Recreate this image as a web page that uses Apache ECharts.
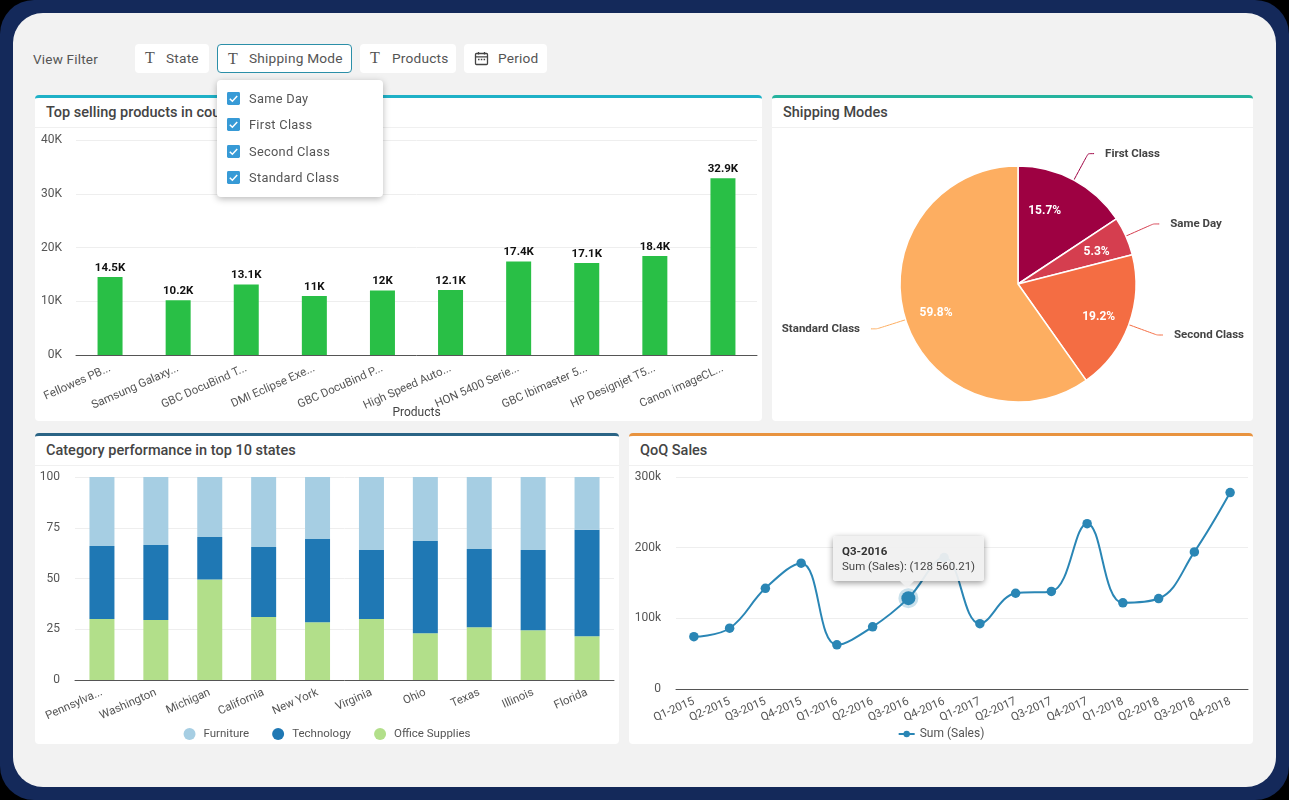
<!DOCTYPE html>
<html>
<head>
<meta charset="utf-8">
<title>Dashboard</title>
<script src="https://cdn.jsdelivr.net/npm/echarts@6/dist/echarts.min.js"></script>
<style>
    html, body { margin: 0; padding: 0; background: #000; }
    body { width: 1289px; height: 800px; overflow: hidden; font-family: Roboto, sans-serif; color: #444; position: relative; }
    .frame { position: absolute; left: 0; top: 0; width: 1289px; height: 800px; background: #14295a; border-radius: 34px; }
    .page { position: absolute; left: 13px; top: 13px; width: 1263px; height: 774px; background: #f2f2f2; border-radius: 30px; }
    .view-filter { position: absolute; left: 33px; top: 51px; font-size: 13.5px; letter-spacing: .2px; color: #555; }
    .pill { position: absolute; top: 44px; height: 29px; background: #fff; border-radius: 4px; box-sizing: border-box; font-size: 13.7px; letter-spacing: .2px; line-height: 28px; color: #555; white-space: nowrap; }
    .pill.active { border: 1px solid #2b8fa8; line-height: 26px; }
    .pill i { position: absolute; left: 10px; top: 0; font: normal 16px "Liberation Serif", serif; line-height: 28px; color: #555; }
    .pill svg { position: absolute; left: 10px; top: 7px; }
    .pill span { position: absolute; top: 0; }
    .card { position: absolute; background: #fff; border-radius: 4px; box-sizing: border-box; border-top: 3px solid #000; overflow: hidden; }
    .card h3 { margin: 0; height: 29px; line-height: 29px; padding-left: 11px; font-size: 14.5px; font-weight: 500; color: #444; border-bottom: 1px solid #f0f0f0; white-space: nowrap; }
    .chart { position: absolute; left: 0; }
    .dropdown { position: absolute; left: 217px; top: 80px; width: 166px; height: 117px; background: #fff; border-radius: 4px; box-shadow: 0 2px 7px rgba(0,0,0,.28); z-index: 5; }
    .dropdown div { position: absolute; left: 32px; font-size: 12.8px; letter-spacing: .3px; color: #555; line-height: 16px; }
    .dropdown svg { position: absolute; left: -22px; top: 1px; }
</style>
</head>
<body>
<div class="frame"></div>
<div class="page"></div>
<div class="view-filter">View Filter</div>
<div class="pill" style="left:135px;width:74px"><i>T</i><span style="left:31px">State</span></div>
<div class="pill active" style="left:217px;width:135px"><i>T</i><span style="left:31px">Shipping Mode</span></div>
<div class="pill" style="left:360px;width:96px"><i>T</i><span style="left:32px">Products</span></div>
<div class="pill" style="left:464px;width:83px">
    <svg width="15" height="15" viewBox="0 0 15 15" fill="none" stroke="#444" stroke-width="1.3"><rect x="1.5" y="2.5" width="12" height="11" rx="1"/><path d="M1.5 5.8h12M4.5 1v2.5M10.5 1v2.5"/><path d="M4 8.5h1.5M6.8 8.5h1.5M9.6 8.5h1.5"/></svg>
    <span style="left:34px">Period</span>
</div>

<div class="card" style="left:35px;top:95px;width:727px;height:326px;border-top-color:#1fb1c7"><h3>Top selling products in country</h3><div id="productChart" class="chart" style="top:30px;width:727px;height:293px"></div></div>
<div class="card" style="left:772px;top:95px;width:481px;height:326px;border-top-color:#25b39e"><h3>Shipping Modes</h3><div id="shippingChart" class="chart" style="top:30px;width:481px;height:293px"></div></div>
<div class="card" style="left:35px;top:433px;width:584px;height:311px;border-top-color:#2a6485"><h3>Category performance in top 10 states</h3><div id="categoryChart" class="chart" style="top:29px;width:584px;height:279px"></div></div>
<div class="card" style="left:629px;top:433px;width:624px;height:311px;border-top-color:#e8933f"><h3>QoQ Sales</h3><div id="salesChart" class="chart" style="top:29px;width:624px;height:279px"></div></div>

<div class="dropdown" id="dropdown"></div>

<script>
const shippingFilters = ['Same Day', 'First Class', 'Second Class', 'Standard Class'];

const products = ['Fellowes PB...', 'Samsung Galaxy...', 'GBC DocuBind T...', 'DMI Eclipse Exe...', 'GBC DocuBind P...', 'High Speed Auto...', 'HON 5400 Serie...', 'GBC Ibimaster 5...', 'HP Designjet T5...', 'Canon imageCL...'];
const productSales = [14500, 10200, 13100, 11000, 12000, 12100, 17400, 17100, 18400, 32900];

const shippingModes = ['First Class', 'Same Day', 'Second Class', 'Standard Class'];
const shippingShare = [15.7, 5.3, 19.2, 59.8];
const shippingColors = ['#9e0142', '#d53e4f', '#f46d43', '#fdae61'];

const states = ['Pennsylva...', 'Washington', 'Michigan', 'California', 'New York', 'Virginia', 'Ohio', 'Texas', 'Illinois', 'Florida'];
const officeSupplies = [30, 29.5, 49.5, 31, 28.5, 30, 23, 26, 24.5, 21.5];
const technology = [36, 37, 21, 34.5, 41, 34, 45.5, 38.5, 39.5, 52.5];
const furniture = [34, 33.5, 29.5, 34.5, 30.5, 36, 31.5, 35.5, 36, 26];

const quarters = ['Q1-2015', 'Q2-2015', 'Q3-2015', 'Q4-2015', 'Q1-2016', 'Q2-2016', 'Q3-2016', 'Q4-2016', 'Q1-2017', 'Q2-2017', 'Q3-2017', 'Q4-2017', 'Q1-2018', 'Q2-2018', 'Q3-2018', 'Q4-2018'];
const quarterSales = [74000, 86000, 142500, 178000, 62500, 88000, 128560.21, 186000, 92500, 135500, 138000, 234000, 122000, 128000, 194000, 278000];
const activeQuarter = 6;

const axisLabelColor = '#555';
const gridColor = '#eeeeee';
const axisLineColor = '#555';
const lineColor = '#2a86b5';

// dropdown rows
const dropdown = document.getElementById('dropdown');
shippingFilters.forEach((name, i) => {
    const row = document.createElement('div');
    row.style.top = (10.5 + i * 26.5) + 'px';
    row.innerHTML = '<svg width="13" height="13" viewBox="0 0 14 14"><rect width="14" height="14" rx="1.5" fill="#379ad6"/><path d="M3 7.2l2.8 2.8L11 4.4" fill="none" stroke="#fff" stroke-width="1.6"/></svg>' + name;
    dropdown.appendChild(row);
});

function kLabel(val) {
    return (val / 1000) + 'K';
}

// top selling products
echarts.init(document.getElementById('productChart')).setOption({
    animation: false,
    textStyle: { fontFamily: 'Roboto' },
    grid: { left: 41, right: 5, top: 12, bottom: 66, outerBoundsMode: 'none' },
    xAxis: {
        type: 'category',
        data: products,
        name: 'Products',
        nameLocation: 'middle',
        nameGap: 52,
        nameMoveOverlap: false,
        nameTextStyle: { color: '#444', fontSize: 12 },
        axisTick: { show: false },
        axisLine: { lineStyle: { color: axisLineColor } },
        axisLabel: { rotate: 24, interval: 0, color: axisLabelColor, fontSize: 11.5, margin: 13 }
    },
    yAxis: {
        type: 'value',
        min: 0,
        max: 40000,
        interval: 10000,
        axisLine: { show: false },
        axisTick: { show: false },
        splitLine: { lineStyle: { color: gridColor } },
        axisLabel: { color: axisLabelColor, fontSize: 12, margin: 14, formatter: kLabel }
    },
    series: [{
        type: 'bar',
        data: productSales,
        barWidth: 25,
        itemStyle: { color: '#29bf46' },
        label: {
            show: true,
            position: 'top',
            distance: 3,
            color: '#111',
            fontSize: 11.5,
            fontWeight: 'bold',
            formatter: (p) => kLabel(p.value)
        }
    }]
});

// shipping modes
const shippingData = shippingModes.map((name, i) => ({ name: name, value: shippingShare[i] }));
echarts.init(document.getElementById('shippingChart')).setOption({
    animation: false,
    textStyle: { fontFamily: 'Roboto' },
    color: shippingColors,
    series: [{
        type: 'pie',
        center: [246, 156],
        radius: [0, 118],
        startAngle: 90,
        data: shippingData,
        itemStyle: { borderColor: '#fff', borderWidth: 1.5 },
        label: { show: true, color: '#444', fontSize: 11.5, fontWeight: 'bold', padding: [0, 6], overflow: 'none', formatter: '{b}' },
        labelLine: { length: 30, length2: 6, smooth: 0.15, lineStyle: { width: 1 } }
    }, {
        // percent labels only, sit further out than a plain inside label
        type: 'pie',
        center: [246, 156],
        radius: [48, 118],
        startAngle: 90,
        silent: true,
        data: shippingData,
        itemStyle: { color: 'transparent', borderWidth: 0 },
        label: { show: true, position: 'inside', color: '#fff', fontSize: 12, fontWeight: 'bold', formatter: (p) => p.value + '%' },
        labelLine: { show: false },
        labelLayout: (p) => ({ dx: p.dataIndex === 0 ? -14 : 0, dy: 3 })
    }]
});

// category performance
function stackSeries(name, values, color) {
    return {
        name: name,
        type: 'bar',
        stack: 'total',
        data: values,
        barWidth: 25,
        itemStyle: { color: color }
    };
}
echarts.init(document.getElementById('categoryChart')).setOption({
    animation: false,
    textStyle: { fontFamily: 'Roboto' },
    grid: { left: 40, right: 5, top: 12, bottom: 64, outerBoundsMode: 'none' },
    legend: {
        data: ['Furniture', 'Technology', 'Office Supplies'],
        bottom: -1,
        icon: 'circle',
        itemWidth: 12,
        itemHeight: 12,
        itemGap: 23,
        textStyle: { color: '#555', fontSize: 11.5, padding: [0, 0, 0, 3] }
    },
    xAxis: {
        type: 'category',
        data: states,
        axisTick: { show: false },
        axisLine: { lineStyle: { color: axisLineColor } },
        axisLabel: { rotate: 24, interval: 0, color: axisLabelColor, fontSize: 11.5, margin: 12 }
    },
    yAxis: {
        type: 'value',
        min: 0,
        max: 100,
        interval: 25,
        axisLine: { show: false },
        axisTick: { show: false },
        splitLine: { lineStyle: { color: gridColor } },
        axisLabel: { color: axisLabelColor, fontSize: 12, margin: 15 }
    },
    series: [
        stackSeries('Office Supplies', officeSupplies, '#b2df8a'),
        stackSeries('Technology', technology, '#1f78b4'),
        stackSeries('Furniture', furniture, '#a6cee3')
    ]
});

// QoQ sales
function spacedNumber(val) {
    return val.toFixed(2).replace(/\B(?=(\d{3})+(?!\d))/g, ' ');
}
const salesChart = echarts.init(document.getElementById('salesChart'));
salesChart.setOption({
    animation: false,
    textStyle: { fontFamily: 'Roboto' },
    grid: { left: 47, right: 5, top: 12, bottom: 55, outerBoundsMode: 'none' },
    legend: {
        data: ['Sum (Sales)'],
        bottom: -1,
        itemWidth: 16,
        itemHeight: 8,
        textStyle: { color: '#555', fontSize: 12 }
    },
    tooltip: {
        trigger: 'item',
        alwaysShowContent: true,
        position: [204, 71],
        padding: [8, 9, 7, 9],
        backgroundColor: 'rgba(240,240,240,0.94)',
        borderWidth: 0,
        borderRadius: 3,
        textStyle: { color: '#444', fontSize: 11.5 },
        extraCssText: 'box-shadow:0 2px 6px rgba(0,0,0,.4);',
        formatter: (p) => '<div style="font-weight:bold;color:#333;line-height:15px">' + p.name + '</div>'
            + '<div style="line-height:15px">' + p.seriesName + ': (' + spacedNumber(p.value) + ')</div>'
            + '<div style="position:absolute;left:67px;bottom:-7px;width:0;height:0;border-left:7px solid transparent;border-right:7px solid transparent;border-top:7px solid rgba(240,240,240,0.94)"></div>'
    },
    xAxis: {
        type: 'category',
        data: quarters,
        axisTick: { show: false },
        axisLine: { lineStyle: { color: axisLineColor } },
        axisLabel: { rotate: 24, interval: 0, color: axisLabelColor, fontSize: 11.5, margin: 12 }
    },
    yAxis: {
        type: 'value',
        min: 0,
        max: 300000,
        interval: 100000,
        axisLine: { show: false },
        axisTick: { show: false },
        splitLine: { lineStyle: { color: gridColor } },
        axisLabel: { color: axisLabelColor, fontSize: 12, margin: 15, formatter: (val) => val === 0 ? '0' : (val / 1000) + 'k' }
    },
    series: [{
        name: 'Sum (Sales)',
        type: 'line',
        smooth: 0.4,
        symbol: 'circle',
        symbolSize: 9.5,
        lineStyle: { color: lineColor, width: 2 },
        itemStyle: { color: lineColor },
        data: quarterSales.map((val, i) => {
            if(i !== activeQuarter) {
                return val;
            }
            return {
                value: val,
                symbolSize: 14,
                itemStyle: { color: lineColor, borderColor: 'rgba(42,134,181,0.25)', borderWidth: 6 }
            };
        })
    }]
});
salesChart.dispatchAction({ type: 'showTip', seriesIndex: 0, dataIndex: activeQuarter });
</script>
</body>
</html>
